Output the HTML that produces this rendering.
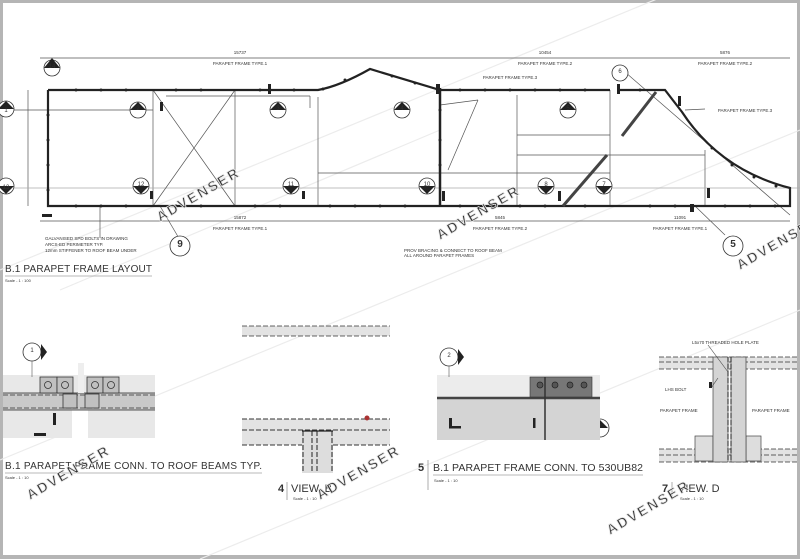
<!DOCTYPE html>
<html><head><meta charset="utf-8"><style>
html,body{margin:0;padding:0;background:#fff}
svg{display:block}
text{font-family:"Liberation Sans",sans-serif;fill:#333}
</style></head><body>
<svg width="800" height="559" viewBox="0 0 800 559" xmlns="http://www.w3.org/2000/svg">
<rect x="0" y="0" width="800" height="559" fill="#b5b5b5"/>
<rect x="3" y="3" width="794" height="552" fill="#fff"/>

<!-- watermark lines -->
<g stroke="#ececec" stroke-width="1.2" fill="none">
<line x1="0" y1="270" x2="800" y2="-60"/>
<line x1="0" y1="460" x2="800" y2="130"/>
<line x1="200" y1="559" x2="800" y2="310"/>
<line x1="60" y1="290" x2="440" y2="130"/>
</g>

<!-- ===== LAYOUT ===== -->
<g stroke="#555" stroke-width="0.7" fill="none">
<line x1="40" y1="58" x2="790" y2="58"/>
<line x1="40" y1="221" x2="790" y2="221"/>
<line x1="28" y1="90" x2="28" y2="206"/>
<line x1="153" y1="90" x2="153" y2="206"/>
<line x1="235" y1="90" x2="235" y2="206"/>
<line x1="318" y1="97" x2="318" y2="206"/>
<line x1="517" y1="95" x2="517" y2="206"/>
<line x1="610" y1="90" x2="610" y2="206"/>
<line x1="705" y1="150" x2="705" y2="206"/>
<line x1="318" y1="173" x2="610" y2="173"/>
<line x1="517" y1="135" x2="610" y2="135"/>
<line x1="517" y1="155" x2="705" y2="155"/>
<line x1="48" y1="110" x2="153" y2="110"/>
<line x1="166" y1="96" x2="310" y2="96"/>
<line x1="310" y1="96" x2="310" y2="108"/>
<line x1="0" y1="188" x2="800" y2="188" stroke="#aaa"/>
<line x1="0" y1="110" x2="48" y2="110"/>
<line x1="153" y1="90" x2="235" y2="206"/>
<line x1="235" y1="90" x2="153" y2="206"/>
<line x1="100" y1="206" x2="100" y2="238"/>
<line x1="160" y1="206" x2="180" y2="240"/>
<line x1="440" y1="105" x2="478" y2="100"/>
<line x1="448" y1="170" x2="478" y2="100"/>
<line x1="625" y1="72" x2="790" y2="215"/>
<line x1="685" y1="110" x2="705" y2="109"/>
<line x1="695" y1="206" x2="725" y2="235"/>
</g>
<!-- main frame -->
<g stroke="#222" stroke-width="2.2" fill="none">
<path d="M48 90 H318 Q340 86 370 69 L440 90 H610"/>
<path d="M620 90 H665 L682 112 Q720 170 790 188 V206 H48 V90"/>
<line x1="440" y1="88" x2="440" y2="206" stroke-width="2.5"/>
</g>
<g stroke="#444" stroke-width="3" fill="none">
<line x1="563" y1="206" x2="607" y2="155"/>
<line x1="622" y1="136" x2="656" y2="92"/>
</g>
<!-- dots -->
<g fill="#222">
<circle cx="76" cy="90" r="1.5"/><circle cx="101" cy="90" r="1.5"/><circle cx="126" cy="90" r="1.5"/><circle cx="176" cy="90" r="1.5"/><circle cx="201" cy="90" r="1.5"/><circle cx="260" cy="90" r="1.5"/><circle cx="294" cy="90" r="1.5"/>
<circle cx="323" cy="89" r="1.5"/><circle cx="345" cy="80" r="1.5"/><circle cx="392" cy="76" r="1.5"/><circle cx="415" cy="83" r="1.5"/>
<circle cx="460" cy="90" r="1.5"/><circle cx="485" cy="90" r="1.5"/><circle cx="510" cy="90" r="1.5"/><circle cx="535" cy="90" r="1.5"/><circle cx="560" cy="90" r="1.5"/><circle cx="585" cy="90" r="1.5"/><circle cx="640" cy="90" r="1.5"/>
<circle cx="712" cy="148" r="1.5"/><circle cx="732" cy="165" r="1.5"/><circle cx="754" cy="177" r="1.5"/><circle cx="776" cy="186" r="1.5"/>
<circle cx="76" cy="206" r="1.5"/><circle cx="101" cy="206" r="1.5"/><circle cx="126" cy="206" r="1.5"/><circle cx="176" cy="206" r="1.5"/><circle cx="201" cy="206" r="1.5"/><circle cx="255" cy="206" r="1.5"/><circle cx="280" cy="206" r="1.5"/><circle cx="330" cy="206" r="1.5"/><circle cx="355" cy="206" r="1.5"/><circle cx="380" cy="206" r="1.5"/><circle cx="405" cy="206" r="1.5"/><circle cx="460" cy="206" r="1.5"/><circle cx="495" cy="206" r="1.5"/><circle cx="520" cy="206" r="1.5"/><circle cx="545" cy="206" r="1.5"/><circle cx="585" cy="206" r="1.5"/><circle cx="650" cy="206" r="1.5"/><circle cx="675" cy="206" r="1.5"/><circle cx="725" cy="206" r="1.5"/><circle cx="750" cy="206" r="1.5"/><circle cx="775" cy="206" r="1.5"/>
<circle cx="48" cy="115" r="1.5"/><circle cx="48" cy="140" r="1.5"/><circle cx="48" cy="165" r="1.5"/><circle cx="48" cy="190" r="1.5"/>
<circle cx="440" cy="110" r="1.5"/><circle cx="440" cy="140" r="1.5"/><circle cx="440" cy="165" r="1.5"/>
<rect x="160" y="102" width="3" height="9"/><rect x="268" y="84" width="3" height="10"/><rect x="436" y="84" width="4" height="10"/><rect x="617" y="84" width="3" height="10"/><rect x="678" y="96" width="3" height="10"/><rect x="442" y="191" width="3" height="10"/><rect x="558" y="191" width="3" height="10"/><rect x="707" y="188" width="3" height="10"/><rect x="690" y="204" width="4" height="8"/><rect x="42" y="214" width="10" height="3"/><rect x="150" y="191" width="3" height="8"/><rect x="302" y="191" width="3" height="8"/>
</g>

<!-- markers -->
<g stroke="#333" stroke-width="0.8" fill="#fff">
<circle cx="52" cy="68" r="8"/><circle cx="6" cy="109" r="8"/><circle cx="6" cy="186" r="8"/>
<circle cx="138" cy="110" r="8"/><circle cx="278" cy="110" r="8"/><circle cx="402" cy="110" r="8"/>
<circle cx="141" cy="186" r="8"/><circle cx="291" cy="186" r="8"/><circle cx="427" cy="186" r="8"/>
<circle cx="568" cy="110" r="8"/><circle cx="620" cy="73" r="8"/>
<circle cx="546" cy="186" r="8"/><circle cx="604" cy="186" r="8"/>
<circle cx="180" cy="246" r="10"/><circle cx="733" cy="246" r="10"/>
<circle cx="32" cy="352" r="9"/><circle cx="129" cy="428" r="9"/><circle cx="449" cy="357" r="9"/><circle cx="600" cy="428" r="9"/>
</g>
<g fill="#222">
<path d="M44 68 L52 58 L60 68Z"/><path d="M-2 109 L6 101 L14 109Z"/><path d="M-2 186 L6 194 L14 186Z"/>
<path d="M130 110 L138 102 L146 110Z"/><path d="M270 110 L278 102 L286 110Z"/><path d="M394 110 L402 102 L410 110Z"/>
<path d="M133 186 L141 194 L149 186Z"/><path d="M283 186 L291 194 L299 186Z"/><path d="M419 186 L427 194 L435 186Z"/>
<path d="M560 110 L568 102 L576 110Z"/><path d="M538 186 L546 194 L554 186Z"/><path d="M596 186 L604 194 L612 186Z"/>
<path d="M41 344 L41 360 L47 352Z"/><path d="M121 428 L129 420 L137 428Z"/><path d="M458 349 L458 365 L464 357Z"/><path d="M592 428 L600 420 L608 428Z"/>
</g>
<g font-size="6" text-anchor="middle">
<text x="52" y="68">14</text><text x="6" y="112">1</text><text x="6" y="189">13</text>
<text x="138" y="110">2</text><text x="278" y="110">3</text><text x="402" y="110">4</text>
<text x="141" y="186">12</text><text x="291" y="186">11</text><text x="427" y="186">10</text>
<text x="568" y="110">5</text><text x="620" y="73">6</text><text x="546" y="186">8</text><text x="604" y="186">7</text>
<text x="180" y="247" font-size="10" font-weight="bold">9</text><text x="733" y="247" font-size="10" font-weight="bold">5</text>
<text x="32" y="352">1</text><text x="449" y="357">2</text><text x="129" y="429">4</text><text x="600" y="429">7</text>
</g>
<g font-size="4.5" fill="#555" text-anchor="middle">
<text x="240" y="54">15737</text><text x="240" y="65">PARAPET FRAME TYPE.1</text>
<text x="545" y="54">10454</text><text x="545" y="65">PARAPET FRAME TYPE.2</text>
<text x="725" y="54">5876</text><text x="725" y="65">PARAPET FRAME TYPE.2</text>
<text x="240" y="219">15872</text><text x="240" y="230">PARAPET FRAME TYPE.1</text>
<text x="500" y="219">5845</text><text x="500" y="230">PARAPET FRAME TYPE.2</text>
<text x="680" y="219">11091</text><text x="680" y="230">PARAPET FRAME TYPE.1</text>
<text x="510" y="79">PARAPET FRAME TYPE.3</text>
<text x="745" y="112">PARAPET FRAME TYPE.3</text>
</g>
<g font-size="4.5" fill="#555">
<text x="45" y="240">GALVANISED SPD BOLTS IN DRAWING</text>
<text x="45" y="246">ARCS-ED PERIMETER TYP.</text>
<text x="45" y="252">12mm STIFFENER TO ROOF BEAM UNDER</text>
<text x="404" y="252">PROV BRACING &amp; CONNECT TO ROOF BEAM</text>
<text x="404" y="257">ALL AROUND PARAPET FRAMES</text>
</g>
<text x="5" y="272" font-size="10" fill="#333" textLength="147">B.1 PARAPET FRAME LAYOUT</text>
<line x1="5" y1="276" x2="152" y2="276" stroke="#777" stroke-width="0.6"/>
<text x="5" y="282" font-size="4" fill="#777">Scale - 1 : 100</text>

<!-- ===== CONN TO ROOF BEAMS ===== -->
<rect x="3" y="375" width="152" height="63" fill="#e8e8e8"/>
<rect x="72" y="410" width="16" height="29" fill="#fff"/>
<rect x="3" y="393" width="152" height="17" fill="#c9c9c9"/>
<g stroke="#333" stroke-width="0.7" stroke-dasharray="5 2"><line x1="3" y1="395" x2="155" y2="395"/><line x1="3" y1="408" x2="155" y2="408"/></g>
<line x1="3" y1="393" x2="155" y2="393" stroke="#555"/><line x1="3" y1="410" x2="155" y2="410" stroke="#555"/>
<g fill="#c0c0c0" stroke="#333" stroke-width="0.8">
<rect x="40" y="377" width="17" height="16"/><rect x="57" y="377" width="16" height="16"/>
<rect x="87" y="377" width="16" height="16"/><rect x="103" y="377" width="16" height="16"/>
<rect x="63" y="394" width="14" height="14"/><rect x="85" y="394" width="14" height="14"/>
</g>
<g fill="none" stroke="#333" stroke-width="0.8"><circle cx="48" cy="385" r="3.5"/><circle cx="65" cy="385" r="3.5"/><circle cx="95" cy="385" r="3.5"/><circle cx="111" cy="385" r="3.5"/></g>
<rect x="78" y="363" width="6" height="30" fill="#eee"/>
<line x1="32" y1="361" x2="32" y2="377" stroke="#555" stroke-width="0.6"/>
<rect x="53" y="413" width="3" height="12" fill="#222"/><rect x="34" y="433" width="12" height="3" fill="#222"/>
<text x="5" y="469" font-size="10" fill="#333" textLength="257">B.1 PARAPET FRAME CONN. TO ROOF BEAMS TYP.</text>
<line x1="5" y1="473" x2="262" y2="473" stroke="#777" stroke-width="0.6"/>
<text x="5" y="479" font-size="4" fill="#777">Scale - 1 : 10</text>

<!-- ===== VIEW B ===== -->
<rect x="242" y="326" width="148" height="10" fill="#e3e3e3"/>
<g stroke="#333" stroke-width="0.8" stroke-dasharray="5 2"><line x1="242" y1="326" x2="390" y2="326"/><line x1="242" y1="336" x2="390" y2="336"/></g>
<rect x="242" y="419" width="148" height="26" fill="#e3e3e3"/>
<g stroke="#333" stroke-width="0.9" stroke-dasharray="5 2"><line x1="242" y1="419" x2="390" y2="419"/><line x1="242" y1="430" x2="390" y2="430"/><line x1="242" y1="445" x2="390" y2="445"/></g>
<rect x="302" y="431" width="31" height="42" fill="#ddd"/>
<g stroke="#222" stroke-width="1" stroke-dasharray="5 2"><line x1="303" y1="431" x2="303" y2="473"/><line x1="312" y1="431" x2="312" y2="473"/><line x1="317" y1="431" x2="317" y2="473"/><line x1="332" y1="431" x2="332" y2="473"/></g>
<line x1="302" y1="431" x2="333" y2="431" stroke="#222" stroke-width="1.2"/>
<circle cx="367" cy="418" r="2.5" fill="#a33"/>
<text x="278" y="492" font-size="11" font-weight="bold" fill="#333">4</text>
<line x1="287" y1="482" x2="287" y2="500" stroke="#777" stroke-width="0.6"/>
<text x="291" y="492" font-size="11" fill="#333">VIEW. B</text>
<text x="293" y="500" font-size="4" fill="#777">Scale - 1 : 10</text>

<!-- ===== CONN TO 530UB82 ===== -->
<rect x="437" y="375" width="163" height="65" fill="#d4d4d4"/>
<rect x="437" y="375" width="163" height="22" fill="#ececec"/>
<line x1="437" y1="398" x2="600" y2="398" stroke="#444" stroke-width="2.5"/>
<rect x="530" y="377" width="62" height="20" fill="#777" stroke="#333" stroke-width="0.6"/>
<g stroke="#222" stroke-width="0.7" fill="#555"><circle cx="540" cy="385" r="3"/><circle cx="555" cy="385" r="3"/><circle cx="570" cy="385" r="3"/><circle cx="584" cy="385" r="3"/></g>
<line x1="545" y1="377" x2="545" y2="440" stroke="#333" stroke-width="1.5"/>
<line x1="449" y1="366" x2="449" y2="377" stroke="#555" stroke-width="0.6"/>
<rect x="449" y="418" width="3" height="10" fill="#222"/><rect x="449" y="426" width="12" height="2.5" fill="#222"/>
<rect x="533" y="418" width="2.5" height="10" fill="#222"/>
<text x="418" y="471" font-size="11" font-weight="bold" fill="#333">5</text>
<line x1="428" y1="460" x2="428" y2="490" stroke="#777" stroke-width="0.6"/>
<text x="433" y="471" font-size="10.5" fill="#333" textLength="210">B.1 PARAPET FRAME CONN. TO 530UB82</text>
<line x1="433" y1="475" x2="643" y2="475" stroke="#777" stroke-width="0.6"/>
<text x="434" y="482" font-size="4" fill="#777">Scale - 1 : 10</text>

<!-- ===== VIEW D ===== -->
<rect x="659" y="357" width="138" height="12" fill="#e3e3e3"/>
<rect x="659" y="449" width="138" height="13" fill="#e3e3e3"/>
<g stroke="#333" stroke-width="0.8" stroke-dasharray="5 2"><line x1="659" y1="357" x2="797" y2="357"/><line x1="659" y1="362" x2="797" y2="362"/><line x1="659" y1="369" x2="797" y2="369"/><line x1="659" y1="449" x2="797" y2="449"/><line x1="659" y1="455" x2="797" y2="455"/><line x1="659" y1="462" x2="797" y2="462"/></g>
<rect x="695" y="436" width="18" height="25" fill="#ddd" stroke="#444" stroke-width="0.7"/>
<rect x="746" y="436" width="15" height="25" fill="#ddd" stroke="#444" stroke-width="0.7"/>
<rect x="713" y="357" width="15" height="105" fill="#d4d4d4" stroke="#444" stroke-width="0.7"/>
<rect x="731" y="357" width="15" height="105" fill="#d4d4d4" stroke="#444" stroke-width="0.7"/>
<g stroke="#222" stroke-width="1" stroke-dasharray="5 2"><line x1="728" y1="357" x2="728" y2="462"/><line x1="731" y1="357" x2="731" y2="462"/></g>
<path d="M708 345 L728 372" stroke="#444" stroke-width="0.6" fill="none"/>
<path d="M711 388 L718 378" stroke="#444" stroke-width="0.6" fill="none"/>
<rect x="709" y="382" width="3" height="6" fill="#222"/>
<g font-size="4.5" fill="#555"><text x="692" y="344">L5x70 THREADED HOLE PLATE</text><text x="665" y="391">LHS BOLT</text><text x="660" y="412">PARAPET FRAME</text><text x="752" y="412">PARAPET FRAME</text></g>
<text x="662" y="492" font-size="11" font-weight="bold" fill="#333">7</text>
<line x1="672" y1="482" x2="672" y2="500" stroke="#777" stroke-width="0.6"/>
<text x="678" y="492" font-size="11" fill="#333">VIEW. D</text>
<text x="680" y="500" font-size="4" fill="#777">Scale - 1 : 10</text>

<!-- watermarks text -->
<g font-size="14" font-weight="bold" fill="none" stroke="#e6e6e6" stroke-width="0.8" letter-spacing="2">
<text transform="translate(160 222) rotate(-30)">ADVENSER</text>
<text transform="translate(440 240) rotate(-30)">ADVENSER</text>
<text transform="translate(30 500) rotate(-30)">ADVENSER</text>
<text transform="translate(320 500) rotate(-30)">ADVENSER</text>
<text transform="translate(610 535) rotate(-30)">ADVENSER</text>
<text transform="translate(740 270) rotate(-30)">ADVENSER</text>
</g>
</svg>
</body></html>
